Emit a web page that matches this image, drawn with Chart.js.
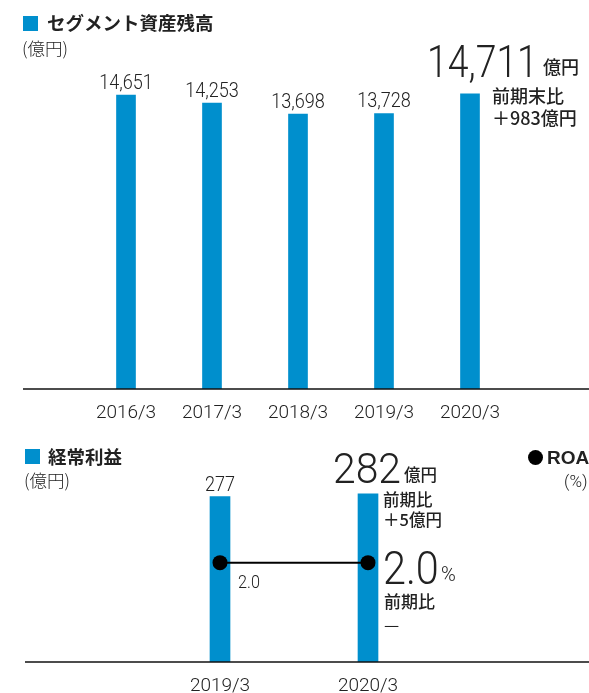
<!DOCTYPE html>
<html lang="ja">
<head>
<meta charset="utf-8">
<script src="https://cdn.jsdelivr.net/npm/chart.js@4"></script>
<style>
  html, body { margin: 0; padding: 0; background: #fff; }
  body { width: 589px; height: 693px; position: relative; overflow: hidden; color: #222; }
  canvas { position: absolute; left: 0; }
  .t { position: absolute; white-space: nowrap; line-height: 1; }
  .jp { font-family: "Noto Sans CJK JP", sans-serif; }
  .num { font-family: "Roboto", sans-serif; font-weight: 300; transform-origin: 0 0; }
  .sq { position: absolute; width: 15px; height: 15px; background: #008fcd; }
</style>
</head>
<body>
<canvas id="assetChart" width="598" height="429" style="top:0"></canvas>
<canvas id="profitChart" width="589" height="272" style="top:430px"></canvas>

<!-- segment assets header -->
<div class="sq" style="left:23px;top:16px"></div>
<div class="t jp" style="left:47px;top:13px;font-size:18.5px;font-weight:700">セグメント資産残高</div>
<div class="t jp" style="left:22px;top:39px;font-size:17.5px;font-weight:300">(億円)</div>
<div class="t num" id="assetLatest" style="left:427px;top:40px;font-size:44.5px;transform:scaleX(0.84)"></div>
<div class="t jp" style="left:543px;top:57px;font-size:18px;font-weight:500">億円</div>
<div class="t jp" style="left:492px;top:86px;font-size:18px;font-weight:500">前期末比</div>
<div class="t jp" id="assetDiff" style="left:492px;top:108px;font-size:18px;font-weight:500"></div>

<!-- ordinary profit header -->
<div class="sq" style="left:25px;top:449px"></div>
<div class="t jp" style="left:48px;top:447px;font-size:18.5px;font-weight:700">経常利益</div>
<div class="t jp" style="left:24px;top:471px;font-size:17.5px;font-weight:300">(億円)</div>
<div class="t num" id="profitLatest" style="left:333px;top:447px;font-size:43px;transform:scaleX(0.95)"></div>
<div class="t jp" style="left:404px;top:466px;font-size:16.5px;font-weight:500">億円</div>
<div class="t jp" style="left:383px;top:491px;font-size:16.5px;font-weight:500">前期比</div>
<div class="t jp" id="profitDiff" style="left:383px;top:511px;font-size:16.5px;font-weight:500"></div>
<div class="t num" id="roaLatest" style="left:383px;top:545px;font-size:46px;transform:scaleX(0.9)"></div>
<div class="t num" style="left:441px;top:564px;font-size:20px">%</div>
<div class="t jp" style="left:384px;top:592px;font-size:17px;font-weight:500">前期比</div>
<div class="t jp" style="left:384px;top:615px;font-size:17px">—</div>

<div style="position:absolute;left:528px;top:450px;width:15px;height:15px;border-radius:50%;background:#000"></div>
<div class="t" style="left:547px;top:448px;font-size:19px;font-weight:700;font-family:'Liberation Sans',sans-serif">ROA</div>
<div class="t num" style="left:564px;top:473px;font-size:17px">(%)</div>

<script>
// Segment assets (億円)
const assetCategories = ['2016/3', '2017/3', '2018/3', '2019/3', '2020/3'];
const assetValues = [14651, 14253, 13698, 13728, 14711];

// Ordinary profit (億円) and ROA (%)
const profitCategories = ['2019/3', '2020/3'];
const profitValues = [277, 282];
const roaValues = [2.0, 2.0];

const BLUE = '#008fcd';
const INK = '#222';
const NUM_FONT = 'Roboto, sans-serif';

function fmt(v) { return v.toLocaleString('en-US'); }

// headline numbers next to the latest bar
const lastA = assetValues.length - 1;
document.getElementById('assetLatest').textContent = fmt(assetValues[lastA]);
document.getElementById('assetDiff').textContent = '＋' + fmt(assetValues[lastA] - assetValues[lastA - 1]) + '億円';
const lastP = profitValues.length - 1;
document.getElementById('profitLatest').textContent = fmt(profitValues[lastP]);
document.getElementById('profitDiff').textContent = '＋' + (profitValues[lastP] - profitValues[lastP - 1]) + '億円';
document.getElementById('roaLatest').textContent = roaValues[roaValues.length - 1].toFixed(1);

// narrow text, the source uses a condensed face
function narrowText(ctx, text, x, y, sx) {
    ctx.save();
    ctx.translate(x, y);
    ctx.scale(sx, 1);
    ctx.fillText(text, 0, 0);
    ctx.restore();
}

// value labels above the bars (the latest one is shown as headline instead)
const barLabels = {
    id: 'barLabels',
    afterDatasetsDraw(chart) {
        const ctx = chart.ctx;
        ctx.save();
        ctx.fillStyle = INK;
        ctx.textAlign = 'center';
        ctx.textBaseline = 'alphabetic';
        chart.data.datasets.forEach((ds, di) => {
            const meta = chart.getDatasetMeta(di);
            if (meta.type === 'bar') {
                ctx.font = '300 21px ' + NUM_FONT;
                meta.data.forEach((bar, i) => {
                    if (i === meta.data.length - 1) return;
                    narrowText(ctx, fmt(ds.data[i].y), bar.x, bar.y - 6, 0.86);
                });
            } else if (meta.type === 'line') {
                const p = meta.data[0];
                ctx.font = '300 18px ' + NUM_FONT;
                narrowText(ctx, ds.data[0].y.toFixed(1), p.x + 29, p.y + 25, 0.9);
            }
        });
        ctx.restore();
    }
};

// baseline running from the plot's left edge to the page edge
const baseLine = {
    id: 'baseLine',
    afterDraw(chart) {
        const ctx = chart.ctx;
        const y = chart.scales.x.top;
        ctx.save();
        ctx.strokeStyle = '#111';
        ctx.lineWidth = 1.5;
        ctx.beginPath();
        ctx.moveTo(chart.chartArea.left, y);
        ctx.lineTo(chart.width, y);
        ctx.stroke();
        ctx.restore();
    }
};

function xAxis(categories, min, max) {
    return {
        type: 'linear',
        min: min,
        max: max,
        offset: false,
        grid: { display: false },
        border: { display: false },
        ticks: {
            stepSize: 1,
            autoSkip: false,
            includeBounds: false,
            maxRotation: 0,
            padding: 5,
            color: INK,
            font: { family: NUM_FONT, size: 19, weight: 300 },
            callback: v => (Number.isInteger(v) && categories[v]) ? categories[v] : ''
        },
        afterFit: s => { s.height = 40; s.paddingLeft = 0; s.paddingRight = 0; }
    };
}

new Chart(document.getElementById('assetChart'), {
    type: 'bar',
    data: {
        datasets: [{
            data: assetValues.map((v, i) => ({ x: i, y: v })),
            backgroundColor: BLUE,
            barThickness: 19
        }]
    },
    options: {
        responsive: false,
        animation: false,
        devicePixelRatio: 1,
        layout: { autoPadding: false, padding: { top: 40, left: 23, right: 0, bottom: 0 } },
        plugins: { legend: { display: false }, tooltip: { enabled: false } },
        scales: {
            x: xAxis(assetCategories, -1.1977, 5.4884),
            y: { display: false, min: 0, max: 17390 }
        }
    },
    plugins: [barLabels, baseLine]
});

new Chart(document.getElementById('profitChart'), {
    type: 'bar',
    data: {
        datasets: [{
            type: 'line',
            data: roaValues.map((v, i) => ({ x: i, y: v })),
            yAxisID: 'y2',
            borderColor: '#000',
            borderWidth: 2,
            pointRadius: 7.5,
            pointBackgroundColor: '#000',
            pointBorderWidth: 0,
            order: 0
        }, {
            data: profitValues.map((v, i) => ({ x: i, y: v })),
            yAxisID: 'y',
            backgroundColor: BLUE,
            barThickness: 20,
            order: 1
        }]
    },
    options: {
        responsive: false,
        animation: false,
        devicePixelRatio: 1,
        layout: { autoPadding: false, padding: { top: 10, left: 25, right: 0, bottom: 0 } },
        plugins: { legend: { display: false }, tooltip: { enabled: false } },
        scales: {
            x: xAxis(profitCategories, -1.3176, 2.4932),
            y: { display: false, min: 0, max: 372 },
            y2: { display: false, min: 0, max: 4.47 }
        }
    },
    plugins: [barLabels, baseLine]
});
</script>
</body>
</html>
